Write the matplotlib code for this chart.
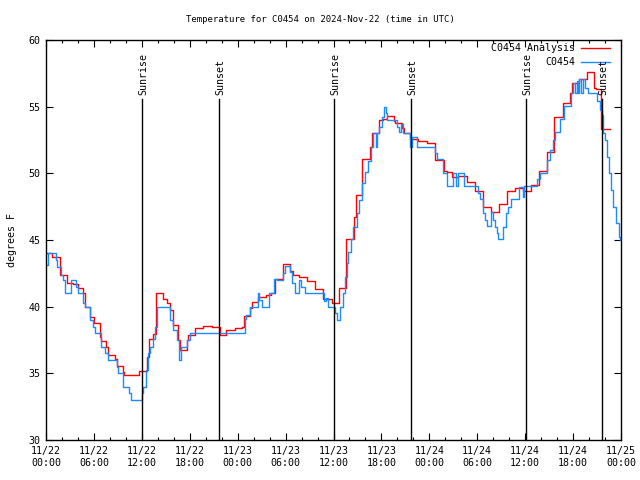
import matplotlib
matplotlib.use("Agg")
import matplotlib.pyplot as plt
from matplotlib.ticker import MultipleLocator

# hours since 2024-11-22 00:00 UTC
obs_t = [0.0, 0.2, 1.2, 1.35, 1.9, 2.15, 2.4, 3.1, 3.75, 4.05, 4.65, 4.9, 5.5, 5.9, 6.15,
         6.9, 7.4, 7.8, 8.85, 9.05, 9.7, 10.4, 10.65, 12.0, 12.2, 12.5, 12.8, 13.0, 13.45,
         13.65, 13.85, 15.5, 15.95, 16.35, 16.6, 16.85, 17.6, 18.0, 24.9, 25.1, 25.55,
         26.6, 26.65, 27.0, 27.95, 28.55, 28.9, 29.65, 29.95, 30.55, 30.75, 31.2, 31.7,
         31.9, 32.4, 34.75, 35.05, 35.35, 36.2, 36.5, 36.8, 37.15, 37.45, 37.65, 37.85,
         38.25, 38.5, 38.9, 39.25, 39.6, 39.95, 40.35, 40.65, 41.0, 41.3, 41.5, 41.75,
         42.05, 42.3, 42.55, 42.65, 44.0, 44.25, 44.4, 44.65, 45.6, 45.85, 46.4, 48.7,
         48.9, 49.75, 50.15, 51.0, 51.35, 51.65, 52.35, 54.15, 54.35, 54.7, 54.95, 55.2,
         55.7, 56.0, 56.2, 56.45, 56.65, 57.25, 57.6, 57.9, 58.2, 59.25, 59.7, 59.85,
         61.45, 61.8, 62.7, 63.1, 63.5, 63.75, 64.35, 64.8, 65.7, 65.95, 66.25, 66.45,
         66.65, 66.8, 67.05, 67.3, 67.5, 67.9, 68.95, 69.35, 69.6, 69.8, 70.0, 70.3,
         70.55, 70.75, 71.05, 71.4, 71.8, 71.9]
obs_v = [43.1, 44.0, 43.5, 43.0, 42.4, 42.0, 41.0, 42.0, 41.5, 41.0, 40.3, 40.0, 39.0, 38.5, 38.0,
         37.0, 36.5, 36.0, 35.5, 35.0, 34.0, 33.5, 33.0, 33.5, 34.0, 35.25, 36.5, 37.0, 37.6,
         38.5, 40.0, 39.0, 38.25, 37.5, 36.0, 37.0, 37.5, 38.0, 39.1, 39.4, 40.0,
         41.0, 40.5, 40.0, 41.0, 42.1, 42.0, 42.5, 43.05, 42.6, 41.75, 41.0, 42.0,
         41.5, 41.0, 40.4, 40.65, 40.0, 39.5, 39.0, 40.0, 41.0, 42.25, 43.25, 44.1,
         45.1, 46.0, 47.0, 48.0, 49.25, 50.1, 50.9, 51.95, 53.0, 52.0, 53.0, 53.5,
         54.2, 55.0, 54.5, 54.0, 53.5, 53.1, 53.7, 53.05, 52.0, 52.7, 52.0, 51.5,
         51.05, 50.0, 49.05, 50.0, 49.05, 50.0, 49.05, 48.55, 48.05, 47.0, 46.5, 46.05,
         47.1, 46.5, 46.0, 45.55, 45.1, 46.0, 47.0, 47.5, 48.05, 49.0, 48.2, 49.05,
         49.6, 50.05, 51.0, 51.75, 52.5, 53.1, 54.1, 55.05, 56.05, 56.75, 56.05, 56.9,
         56.05, 57.05, 56.05, 57.05, 56.4, 56.05, 55.4, 54.75, 54.4, 53.0, 52.5, 51.25,
         50.0, 48.75, 47.5, 46.25, 45.25, 45.0]

ana_t = [0.0, 0.8, 1.75, 2.6, 3.4, 3.95, 4.6, 4.9, 5.45, 5.95, 6.7, 6.9, 7.5, 7.8, 8.65,
         8.85, 9.6, 9.8, 10.75, 11.65, 12.6, 12.95, 13.45, 13.75, 14.7, 15.1, 15.55,
         15.85, 16.55, 16.8, 17.6, 17.8, 18.65, 19.7, 20.75, 21.75, 22.6, 23.65, 24.6,
         24.85, 25.55, 25.85, 26.6, 27.6, 28.15, 28.7, 29.65, 30.55, 30.95, 31.7, 32.65,
         33.7, 34.7, 35.8, 36.7, 37.55, 38.6, 38.8, 39.6, 40.6, 40.85, 41.7, 42.2, 42.65,
         43.6, 43.7, 44.55, 44.8, 45.6, 46.6, 47.65, 48.7, 49.8, 50.2, 50.8, 51.65,
         52.7, 53.7, 54.75, 55.7, 56.75, 57.7, 58.7, 59.7, 60.7, 61.7, 62.7, 63.65,
         64.7, 65.6, 65.85, 66.8, 67.7, 68.6, 68.85, 69.55, 70.6]
ana_v = [44.0, 43.7, 42.4, 41.8, 41.7, 41.4, 41.0, 40.0, 39.25, 38.75, 37.75, 37.4, 37.0, 36.4, 36.1,
         35.55, 35.1, 34.9, 34.85, 35.15, 36.25, 37.6, 37.95, 41.0, 40.6, 40.25, 39.75,
         38.6, 37.5, 36.75, 37.5, 37.9, 38.4, 38.55, 38.45, 37.9, 38.25, 38.4, 38.5,
         39.3, 39.9, 40.35, 40.7, 40.9, 41.0, 42.1, 43.2, 42.7, 42.4, 42.2, 41.9,
         41.3, 40.6, 40.3, 41.4, 45.1, 46.75, 48.4, 51.1, 52.0, 53.05, 54.0, 54.1, 54.3,
         53.9, 53.8, 53.4, 53.05, 52.55, 52.4, 52.25, 51.0, 50.2, 50.1, 49.7, 49.8,
         49.35, 48.7, 47.45, 47.1, 47.7, 48.7, 48.9, 48.7, 49.1, 50.2, 51.6, 54.2,
         55.25, 56.0, 56.8, 57.1, 57.6, 56.4, 56.3, 53.3, 53.3]

sunrise_t = [12.0, 36.05, 60.1]
sunset_t = [21.65, 45.7, 69.6]

xtick_pos = [0, 6, 12, 18, 24, 30, 36, 42, 48, 54, 60, 66, 72]
xtick_lab = ["11/22\n00:00", "11/22\n06:00", "11/22\n12:00", "11/22\n18:00",
             "11/23\n00:00", "11/23\n06:00", "11/23\n12:00", "11/23\n18:00",
             "11/24\n00:00", "11/24\n06:00", "11/24\n12:00", "11/24\n18:00",
             "11/25\n00:00"]
yticks = [30, 35, 40, 45, 50, 55, 60]

FONT = "DejaVu Sans Mono"
FS = 7.2
plt.rcParams['font.family'] = [FONT]

fig = plt.figure(figsize=(6.4, 4.8), dpi=100)
ax = fig.add_axes([46/640, 1-440/480, 575/640, 400/480])

red = "#ff0000"
blue = "#1a8cff"

ax.step(ana_t + [ana_t[-1]], ana_v + [ana_v[-1]], where='post', color=red, lw=1.0)
ax.step(obs_t, obs_v, where='post', color=blue, lw=1.0)

ymark = 55.6
for t in sunrise_t:
    ax.plot([t, t], [30, ymark], color='black', lw=1.0)
    ax.text(t + 0.15, ymark + 0.3, "Sunrise", rotation=90, ha='center', va='bottom',
            fontsize=FS)
for t in sunset_t:
    ax.plot([t, t], [30, ymark], color='black', lw=1.0)
    ax.text(t + 0.15, ymark + 0.3, "Sunset", rotation=90, ha='center', va='bottom',
            fontsize=FS)

ax.set_xlim(0, 72)
ax.set_ylim(30, 60)
ax.set_xticks(xtick_pos)
ax.set_xticklabels(xtick_lab, fontsize=FS, linespacing=1.3)
ax.xaxis.set_minor_locator(MultipleLocator(2))
ax.set_yticks(yticks)
ax.set_yticklabels([str(v) for v in yticks], fontsize=FS)
ax.tick_params(which='major', direction='in', length=5, width=0.8, top=True, right=True, pad=4)
ax.tick_params(which='minor', direction='in', length=2.5, width=0.8, top=True, right=True)
for s in ax.spines.values():
    s.set_linewidth(1.0)

ax.set_ylabel("degrees F", fontsize=FS, labelpad=8)
fig.text(0.5, 1 - 20/480, "Temperature for C0454 on 2024-Nov-22 (time in UTC)",
         ha='center', va='center', fontsize=6.5)

# key
ax.text(0.92, 0.98, "C0454 Analysis", transform=ax.transAxes, ha='right', va='center',
        fontsize=FS)
ax.text(0.92, 0.945, "C0454", transform=ax.transAxes, ha='right', va='center',
        fontsize=FS)
ax.plot([0.930, 0.981], [0.98, 0.98], transform=ax.transAxes, color=red, lw=1.0)
ax.plot([0.930, 0.981], [0.945, 0.945], transform=ax.transAxes, color=blue, lw=1.0)

fig.savefig("out.png", dpi=100)
